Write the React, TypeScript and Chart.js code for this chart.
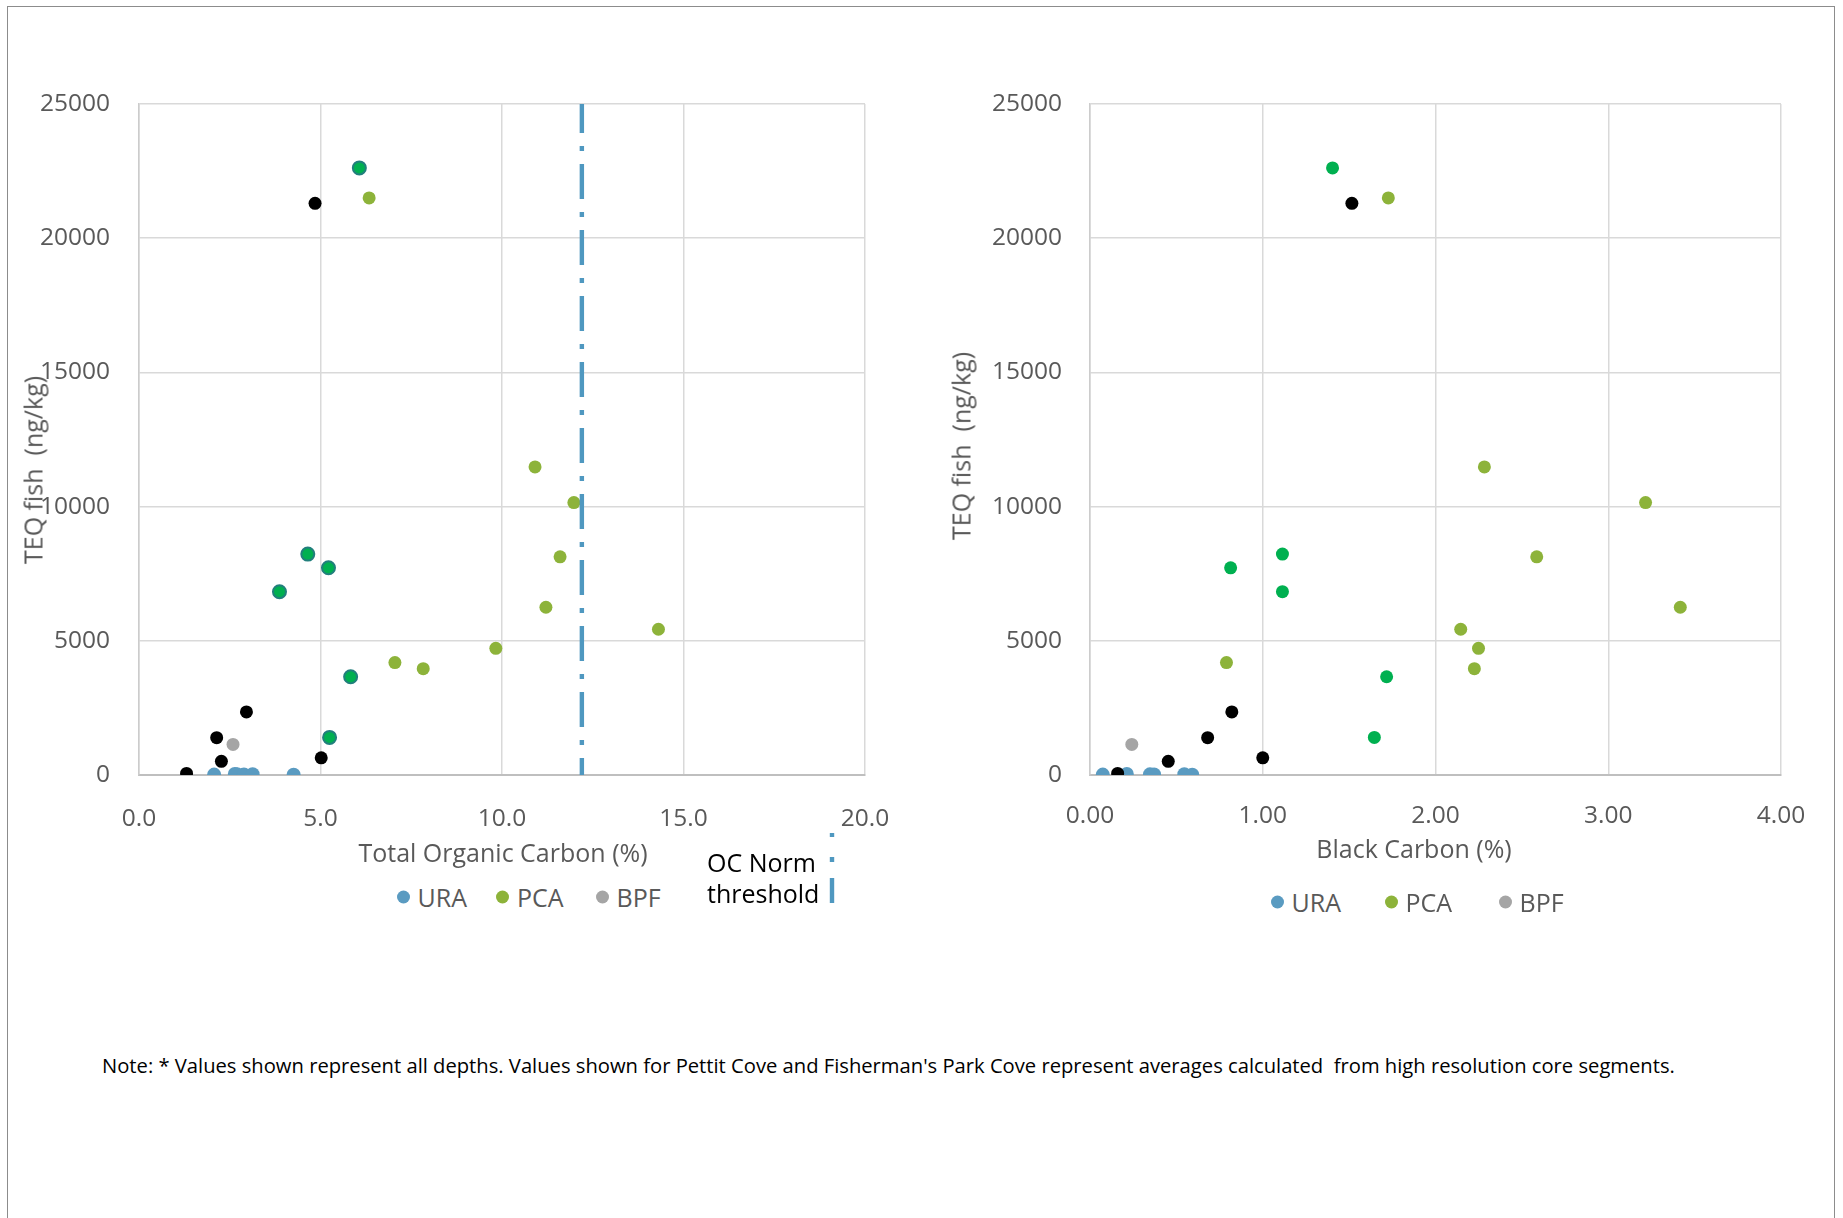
import React, { useEffect, useRef } from "react";
import { Chart, registerables } from "chart.js";

Chart.register(...registerables);

// TEQ fish (ng/kg) per sample group, shared by both panels
const teqUra = [15, 40, 25, 20, 30, 10];
const teqPca = [21500, 11480, 10150, 8130, 6250, 5430, 4720, 4190, 3960];
const teqBpf = [1140];
const teqCove = [22620, 8230, 7720, 6830, 3660, 1400];
const teqOther = [21300, 2350, 1390, 510, 60, 640];

// Total organic carbon (%)
const tocUra = [2.07, 2.64, 2.7, 2.89, 3.13, 4.26];
const tocPca = [6.34, 10.91, 11.98, 11.6, 11.21, 14.31, 9.83, 7.05, 7.83];
const tocBpf = [2.59];
const tocCove = [6.07, 4.65, 5.22, 3.87, 5.83, 5.25];
const tocOther = [4.85, 2.96, 2.14, 2.27, 1.31, 5.02];

// Black carbon (%)
const bcUra = [0.074, 0.213, 0.347, 0.371, 0.546, 0.592];
const bcPca = [1.727, 2.283, 3.216, 2.586, 3.417, 2.146, 2.249, 0.79, 2.225];
const bcBpf = [0.242];
const bcCove = [1.404, 1.114, 0.814, 1.114, 1.717, 1.646];
const bcOther = [1.516, 0.821, 0.681, 0.453, 0.16, 1.0];

// Organic-carbon normalisation threshold (% TOC)
const ocNormThreshold = 12.2;

// Axis ranges: [min, max, step]
const teqAxis = [0, 25000, 5000];
const tocAxis = [0, 20, 5];
const bcAxis = [0, 4, 1];

const legendNames = ["URA", "PCA", "BPF"];
const thresholdName = ["OC Norm", "threshold"];

const URA_COLOR = "#5A9BC1";
const PCA_COLOR = "#8DB33A";
const BPF_COLOR = "#A5A5A5";
const COVE_COLOR = "#00B050";
const COVE_EDGE = "#217F7C";
const OTHER_COLOR = "#000000";
const LINE_COLOR = "#4F98C0";
const legendColors = [URA_COLOR, PCA_COLOR, BPF_COLOR];

const TEXT_GRAY = "#595959";
const FONT = "'Open Sans', 'Noto Sans', sans-serif";

const pts = (xs: number[], ys: number[]) => xs.map((x, i) => ({ x, y: ys[i] }));

function scatterSet(label: string, xs: number[], ys: number[], color: string, radius: number, edge?: string) {
  return {
    label,
    data: pts(xs, ys),
    backgroundColor: color,
    borderColor: edge || color,
    borderWidth: edge ? 2 : 0,
    pointRadius: radius,
    pointHoverRadius: radius,
    showLine: false,
  };
}

type PanelProps = {
  left: number;
  width: number;
  height: number;
  axisWidth: number;
  padTop: number;
  padRight: number;
  plotBottom: number;
  xAxis: number[];
  decimals: number;
  xTickPad: number;
  yTickPad: number;
  datasets: any[];
};

function ScatterPanel(p: PanelProps) {
  const ref = useRef<HTMLCanvasElement>(null);
  useEffect(() => {
    const tickFont = { family: FONT, size: 24.5 };
    const chart = new Chart(ref.current as HTMLCanvasElement, {
      type: "scatter",
      data: { datasets: p.datasets },
      options: {
        responsive: false,
        maintainAspectRatio: false,
        animation: false,
        events: [],
        layout: { padding: { left: 0, top: p.padTop, right: p.padRight, bottom: 0 } },
        plugins: { legend: { display: false }, tooltip: { enabled: false } },
        scales: {
          x: {
            type: "linear",
            min: p.xAxis[0],
            max: p.xAxis[1],
            ticks: {
              stepSize: p.xAxis[2],
              color: TEXT_GRAY,
              font: tickFont,
              padding: p.xTickPad,
              maxRotation: 0,
              autoSkip: false,
              callback: (v: any) => Number(v).toFixed(p.decimals),
            },
            grid: { color: "#D9D9D9", lineWidth: 1.5, drawTicks: false },
            border: { color: "#BFBFBF", width: 2 },
            afterFit: (s: any) => {
              s.height = p.height - p.plotBottom;
            },
          },
          y: {
            type: "linear",
            min: teqAxis[0],
            max: teqAxis[1],
            ticks: {
              stepSize: teqAxis[2],
              color: TEXT_GRAY,
              font: tickFont,
              padding: p.yTickPad,
              callback: (v: any) => String(v),
            },
            grid: { color: "#D9D9D9", lineWidth: 1.5, drawTicks: false },
            border: { color: "#CCCCCC", width: 1.5 },
            afterFit: (s: any) => {
              s.width = p.axisWidth;
            },
          },
        },
      },
    } as any);
    return () => chart.destroy();
  }, []);
  return (
    <canvas
      ref={ref}
      width={p.width}
      height={p.height}
      style={{ position: "absolute", left: p.left, top: 0, width: p.width, height: p.height }}
    />
  );
}

const textBase: React.CSSProperties = {
  position: "absolute",
  fontFamily: FONT,
  whiteSpace: "pre",
  lineHeight: 1,
};

function CenteredText({ x, y, text, size = 25, color = TEXT_GRAY, rotate = 0 }: any) {
  return (
    <div
      style={{
        ...textBase,
        left: x,
        top: y,
        fontSize: size,
        color,
        transform: `translate(-50%, -50%) rotate(${rotate}deg)`,
      }}
    >
      {text}
    </div>
  );
}

function Legend({ x, y, spacing }: { x: number; y: number; spacing: number }) {
  return (
    <>
      {legendNames.map((name, i) => (
        <div
          key={name}
          style={{
            ...textBase,
            left: x + i * spacing - 6.5,
            top: y,
            transform: "translateY(-50%)",
            display: "flex",
            alignItems: "center",
            fontSize: 25,
            color: TEXT_GRAY,
          }}
        >
          <span
            style={{
              display: "inline-block",
              width: 13,
              height: 13,
              borderRadius: "50%",
              background: legendColors[i],
              marginRight: 8,
            }}
          />
          <span>{name}</span>
        </div>
      ))}
    </>
  );
}

export default function App() {
  const leftSets = [
    {
      label: "OC Norm threshold",
      data: [
        { x: ocNormThreshold, y: teqAxis[1] },
        { x: ocNormThreshold, y: teqAxis[0] },
      ],
      showLine: true,
      borderColor: LINE_COLOR,
      borderWidth: 4.4,
      borderDash: [35, 13, 5, 13],
      borderDashOffset: 6,
      borderCapStyle: "butt",
      pointRadius: 0,
      fill: false,
    },
    scatterSet("Other sites", tocOther, teqOther, OTHER_COLOR, 6.5),
    scatterSet("Cove sites", tocCove, teqCove, COVE_COLOR, 6.5, COVE_EDGE),
    scatterSet("URA", tocUra, teqUra, URA_COLOR, 7),
    scatterSet("PCA", tocPca, teqPca, PCA_COLOR, 6.5),
    scatterSet("BPF", tocBpf, teqBpf, BPF_COLOR, 6.5),
  ];
  const rightSets = [
    scatterSet("Other sites", bcOther, teqOther, OTHER_COLOR, 6.5),
    scatterSet("Cove sites", bcCove, teqCove, COVE_COLOR, 6.5),
    scatterSet("URA", bcUra, teqUra, URA_COLOR, 7),
    scatterSet("PCA", bcPca, teqPca, PCA_COLOR, 6.5),
    scatterSet("BPF", bcBpf, teqBpf, BPF_COLOR, 6.5),
  ];

  return (
    <div
      style={{
        position: "absolute",
        left: 0,
        top: 0,
        width: 1843,
        height: 1218,
        overflow: "hidden",
        background: "#FFFFFF",
      }}
    >
      <div
        style={{
          position: "absolute",
          left: 7,
          top: 6,
          width: 1826,
          height: 1400,
          border: "1px solid #8C8C8C",
        }}
      />

      <ScatterPanel
        left={0}
        width={920}
        height={870}
        axisWidth={139}
        padTop={104}
        padRight={920 - 865}
        plotBottom={775}
        xAxis={tocAxis}
        decimals={1}
        xTickPad={29}
        yTickPad={29}
        datasets={leftSets}
      />
      <ScatterPanel
        left={920}
        width={923}
        height={870}
        axisWidth={170}
        padTop={104}
        padRight={1843 - 1781}
        plotBottom={775}
        xAxis={bcAxis}
        decimals={2}
        xTickPad={26}
        yTickPad={28}
        datasets={rightSets}
      />

      <CenteredText x={33} y={470} text={"TEQ fish  (ng/kg)"} rotate={-90} />
      <CenteredText x={961} y={446} text={"TEQ fish  (ng/kg)"} rotate={-90} />
      <CenteredText x={503} y={852} text={"Total Organic Carbon (%)"} />
      <CenteredText x={1414} y={848} text={"Black Carbon (%)"} />

      <Legend x={403} y={897} spacing={99.5} />
      <Legend x={1277} y={902} spacing={114} />

      <div
        style={{
          ...textBase,
          left: 707,
          top: 862 - 15.5,
          fontSize: 25,
          lineHeight: "31px",
          color: "#000000",
        }}
      >
        {thresholdName.join("\n")}
      </div>
      <svg style={{ position: "absolute", left: 828, top: 830, width: 8, height: 76 }}>
        <line
          x1={4}
          x2={4}
          y1={73}
          y2={3}
          stroke={LINE_COLOR}
          strokeWidth={4.4}
          strokeDasharray="25 16 5 20 5"
        />
      </svg>

      <div style={{ ...textBase, left: 102, top: 1065, transform: "translateY(-50%)", fontSize: 20.2, color: "#000000" }}>
        {"Note: * Values shown represent all depths. Values shown for Pettit Cove and Fisherman's Park Cove represent averages calculated  from high resolution core segments."}
      </div>
    </div>
  );
}
